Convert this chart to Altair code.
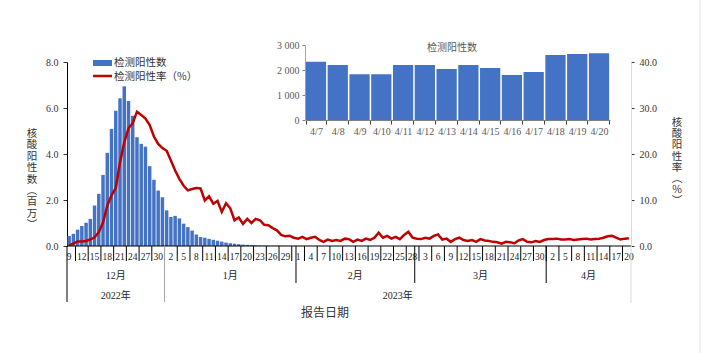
import altair as alt
import pandas as pd

# ---------------- data ----------------
dates = pd.date_range("2022-12-09", "2023-04-20", freq="D")

# 检测阳性数 (百万)
positive_millions = (
    # Dec 9-31
    [0.43, 0.53, 0.71, 0.87, 1.01, 1.18, 1.76, 2.27, 3.09, 4.05, 5.09, 5.88,
     6.42, 6.94, 6.30, 5.66, 4.73, 4.44, 4.32, 3.47, 2.88, 2.41, 2.12]
    # Jan
    + [1.55, 1.26, 1.31, 1.20, 0.97, 0.82, 0.67, 0.50, 0.39, 0.36,
       0.31, 0.27, 0.23, 0.19, 0.15, 0.12, 0.10, 0.08, 0.06, 0.05,
       0.04, 0.03, 0.02, 0.015, 0.012, 0.010, 0.009, 0.008, 0.007, 0.006, 0.005]
    # Feb
    + [0.005, 0.005, 0.004, 0.004, 0.004, 0.004, 0.003, 0.003, 0.003, 0.003,
       0.003, 0.003, 0.003, 0.003, 0.003, 0.003, 0.003, 0.003, 0.003, 0.003,
       0.003, 0.003, 0.003, 0.003, 0.003, 0.003, 0.003, 0.003]
    # Mar
    + [0.003, 0.003, 0.003, 0.003, 0.003, 0.003, 0.003, 0.003, 0.003, 0.003,
       0.002, 0.002, 0.002, 0.002, 0.002, 0.002, 0.002, 0.002, 0.002, 0.002,
       0.002, 0.002, 0.002, 0.002, 0.002, 0.002, 0.002, 0.002, 0.002, 0.002, 0.002]
    # Apr 1-20
    + [0.002, 0.002, 0.002, 0.002, 0.002, 0.002,
       0.00233, 0.0022, 0.00183, 0.00183, 0.0022, 0.0022, 0.00204, 0.0022,
       0.00208, 0.0018, 0.00192, 0.0026, 0.00264, 0.00267]
)

# 检测阳性率 (%)
positive_rate = (
    [0.2, 0.5, 1.0, 1.0, 1.1, 1.4, 1.9, 3.0, 5.1, 8.8, 11.0, 12.6, 18.2, 22.5,
     25.6, 26.7, 29.2, 28.5, 27.7, 26.3, 23.8, 22.2, 21.3]
    + [20.7, 18.6, 16.4, 14.6, 13.1, 12.1, 12.4, 12.6, 12.5, 9.9,
       10.8, 9.2, 9.8, 7.4, 9.3, 8.2, 5.6, 6.2, 4.8, 5.9,
       5.0, 5.9, 5.6, 4.6, 4.5, 3.9, 3.4, 2.4, 2.1, 2.2, 1.8]
    + [1.6, 2.0, 1.5, 1.8, 2.0, 1.3, 0.9, 1.4, 1.1, 1.3,
       1.1, 1.6, 1.5, 0.9, 1.4, 1.1, 1.6, 1.3, 1.8, 2.9,
       1.8, 2.2, 1.6, 2.0, 1.5, 2.4, 3.1, 1.8]
    + [1.6, 1.5, 1.8, 1.6, 2.2, 2.5, 1.4, 1.6, 0.9, 1.5,
       1.8, 1.3, 1.1, 1.3, 0.9, 1.5, 1.2, 1.1, 0.9, 0.8,
       0.5, 0.9, 0.8, 0.6, 1.2, 1.5, 0.9, 0.8, 1.1, 0.9, 1.3]
    + [1.5, 1.5, 1.6, 1.4, 1.4, 1.5, 1.3, 1.4, 1.5, 1.6,
       1.4, 1.5, 1.6, 1.8, 2.1, 2.2, 1.8, 1.4, 1.6, 1.7]
)

inset_dates = ["4/7", "4/8", "4/9", "4/10", "4/11", "4/12", "4/13",
               "4/14", "4/15", "4/16", "4/17", "4/18", "4/19", "4/20"]
inset_counts = [2333, 2200, 1827, 1827, 2200, 2200, 2040,
                2200, 2080, 1800, 1920, 2600, 2640, 2667]

left_ticks = [0, 2, 4, 6, 8]
right_ticks = [0, 10, 20, 30, 40]
inset_ticks = [0, 1000, 2000, 3000]

legend_labels = ["检测阳性数", "检测阳性率（%）"]
left_title = ["核", "酸", "阳", "性", "数", "︵", "百", "万", "︶"]
right_title = ["核", "酸", "阳", "性", "率", "︵", "%", "︶"]
x_title = "报告日期"
inset_title = "检测阳性数"

# ---------------- layout ----------------
W, H = 564, 184
SERIF = "Liberation Serif, Times New Roman, Noto Sans CJK SC"
CJK = "Noto Sans CJK SC, Noto Sans"
BLUE = "#4472C4"
RED = "#C00000"

n = len(dates)
assert len(positive_millions) == n and len(positive_rate) == n

df = pd.DataFrame({"idx": list(range(n)), "pos": positive_millions, "rate": positive_rate,
                   "day": [str(d.day) for d in dates]})
df["x0"] = df["idx"] - 0.41
df["x1"] = df["idx"] + 0.41

xs = alt.Scale(domain=[-0.5, n - 0.5], nice=False, zero=False)

# day labels every 3 days
dlab = df[df["idx"] % 3 == 0][["idx", "day"]]
labelled = set(dlab["idx"])
# tick marks at day boundaries, leaving room around the labelled days
tick_b = [i - 0.5 for i in range(1, n)
          if (i not in labelled) and ((i - 1) not in labelled)]
tick_df = pd.DataFrame({"b": tick_b})

# month / year groupings
mrows = []
for (yr, mo), g in pd.Series(range(n), index=dates).groupby([dates.year, dates.month]):
    mrows.append({"label": f"{mo}月", "start": int(g.min()), "end": int(g.max())})
mdf = pd.DataFrame(mrows)
mdf["mid"] = (mdf["start"] + mdf["end"]) / 2
mdf["b"] = mdf["start"] - 0.5

yrows = []
for yr, g in pd.Series(range(n), index=dates).groupby(dates.year):
    yrows.append({"label": f"{yr}年", "start": int(g.min()), "end": int(g.max())})
ydf = pd.DataFrame(yrows)
ydf["mid"] = (ydf["start"] + ydf["end"]) / 2
ydf["b"] = ydf["start"] - 0.5
ydf["c"] = ["#000000"] + ["#A6A6A6"] * (len(ydf) - 1)

year_starts = set(ydf["start"])
month_sep = mdf[~mdf["start"].isin(year_starts)]
right_edge = pd.DataFrame({"b": [n - 0.5]})

one = pd.DataFrame({"k": [0]})

# ---------------- main layers ----------------
bars = alt.Chart(df).mark_rect(color=BLUE).encode(
    x=alt.X("x0:Q", scale=xs, axis=None),
    x2="x1:Q",
    y=alt.Y("pos:Q", scale=alt.Scale(domain=[0, 8], nice=False), axis=alt.Axis(
        orient="left", values=left_ticks, format=".1f", grid=False, domainColor="#000000",
        tickSize=4, tickColor="#333333", labelFont=SERIF, labelFontSize=10,
        labelColor="#333333", labelPadding=5, title=None)),
    y2=alt.datum(0),
)

line = alt.Chart(df).mark_line(color=RED, strokeWidth=2.5).encode(
    x=alt.X("idx:Q", scale=xs, axis=None),
    y=alt.Y("rate:Q", scale=alt.Scale(domain=[0, 40], nice=False), axis=alt.Axis(
        orient="right", values=right_ticks, format=".1f", grid=False, domainColor="#D9D9D9",
        tickSize=3, tickColor="#333333", labelFont=SERIF, labelFontSize=10,
        labelColor="#333333", labelPadding=5, title=None)),
)

x_domain = alt.Chart(one).mark_rule(color="#000000", strokeWidth=1).encode(
    x=alt.value(0), x2=alt.value(W), y=alt.value(H))

day_ticks = alt.Chart(tick_df).mark_rule(color="#000000", strokeWidth=1).encode(
    x=alt.X("b:Q", scale=xs, axis=None), y=alt.value(H), y2=alt.value(H + 15))

day_text = alt.Chart(dlab).mark_text(font=SERIF, fontSize=9.5, color="#222222",
                                      baseline="middle").encode(
    x=alt.X("idx:Q", scale=xs, axis=None), y=alt.value(H + 11), text="day:N")

month_rules = alt.Chart(month_sep).mark_rule(color="#000000", strokeWidth=1).encode(
    x=alt.X("b:Q", scale=xs, axis=None), y=alt.value(H), y2=alt.value(H + 37))

year_rules = alt.Chart(ydf).mark_rule(strokeWidth=1).encode(
    x=alt.X("b:Q", scale=xs, axis=None), y=alt.value(H), y2=alt.value(H + 56),
    color=alt.Color("c:N", scale=None))

edge_rule = alt.Chart(right_edge).mark_rule(color="#D9D9D9", strokeWidth=1).encode(
    x=alt.X("b:Q", scale=xs, axis=None), y=alt.value(H), y2=alt.value(H + 57))

month_text = alt.Chart(mdf).mark_text(font=SERIF, fontSize=10, color="#222222",
                                       baseline="middle").encode(
    x=alt.X("mid:Q", scale=xs, axis=None), y=alt.value(H + 30), text="label:N")

year_text = alt.Chart(ydf).mark_text(font=SERIF, fontSize=10, color="#222222",
                                      baseline="middle").encode(
    x=alt.X("mid:Q", scale=xs, axis=None), y=alt.value(H + 50), text="label:N")

# titles & legend (vertical stacked characters, first line top-anchored)
left_t = alt.Chart(one).mark_text(text=left_title, font=CJK, fontSize=10.5, lineHeight=11.4,
                                  color="#333333", baseline="top").encode(
    x=alt.value(-35), y=alt.value(67))
right_t = alt.Chart(one).mark_text(text=right_title, font=CJK, fontSize=10.5, lineHeight=11.2,
                                   color="#333333", baseline="top").encode(
    x=alt.value(610), y=alt.value(56))
x_t = alt.Chart(one).mark_text(text=x_title, font=CJK, fontSize=12, color="#333333",
                               baseline="middle").encode(
    x=alt.value(258), y=alt.value(251))

leg_rect = alt.Chart(one).mark_rect(color=BLUE).encode(
    x=alt.value(26), x2=alt.value(45), y=alt.value(-2), y2=alt.value(4))
leg_line = alt.Chart(one).mark_rule(color=RED, strokeWidth=2.5).encode(
    x=alt.value(26), x2=alt.value(45), y=alt.value(14))
leg_t1 = alt.Chart(one).mark_text(text=legend_labels[0], font=CJK, fontSize=10.5,
                                  color="#333333", align="left", baseline="middle").encode(
    x=alt.value(47), y=alt.value(1))
leg_t2 = alt.Chart(one).mark_text(text=legend_labels[1], font=CJK, fontSize=10.5,
                                  color="#333333", align="left", baseline="middle").encode(
    x=alt.value(47), y=alt.value(14.5))

main = alt.layer(
    bars, line, x_domain, day_ticks, day_text, month_rules, year_rules, edge_rule,
    month_text, year_text, left_t, right_t, x_t, leg_rect, leg_line, leg_t1, leg_t2,
).resolve_scale(y="independent")

# ---------------- inset ----------------
INSET_BOTTOM = 58
INSET_LEFT = 238
inset = alt.Chart(pd.DataFrame({"d": inset_dates, "c": inset_counts})).mark_bar(color=BLUE).encode(
    x=alt.X("d:N", sort=None,
            scale=alt.Scale(range=[INSET_LEFT, 543], paddingInner=0.07, paddingOuter=0.04),
            axis=alt.Axis(orient="bottom", offset=INSET_BOTTOM - H, tickBand="extent",
                          tickSize=4, tickColor="#404040", domainColor="#808080",
                          labelFont=SERIF, labelFontSize=10, labelColor="#595959",
                          labelPadding=2, labelAngle=0, labelOverlap=False, title=None)),
    y=alt.Y("c:Q", scale=alt.Scale(domain=[0, 3000], range=[INSET_BOTTOM, -17], nice=False),
            axis=alt.Axis(orient="left", offset=-INSET_LEFT, values=inset_ticks,
                          labelExpr="replace(format(datum.value, ','), ',', ' ')",
                          grid=False, tickSize=3, tickColor="#808080", domainColor="#A6A6A6",
                          labelFont=SERIF, labelFontSize=10, labelColor="#595959",
                          labelPadding=3, title=None)),
)
inset_t = alt.Chart(one).mark_text(text=inset_title, font=CJK, fontSize=10, color="#595959",
                                   baseline="middle").encode(
    x=alt.value(385), y=alt.value(-14))

frame = alt.Chart(one).mark_rule(color="#E6E6E6", strokeWidth=1).encode(
    x=alt.value(633), y=alt.value(-62), y2=alt.value(291))

chart = alt.layer(main, inset, inset_t, frame).resolve_scale(
    x="independent", y="independent"
).properties(
    width=W, height=H, autosize="none",
    padding={"left": 67, "top": 62, "right": 703 - 67 - W, "bottom": 353 - 62 - H},
    background="white",
).configure_view(stroke=None)

chart.save("out.html", embed_options={"renderer": "svg", "actions": False})
